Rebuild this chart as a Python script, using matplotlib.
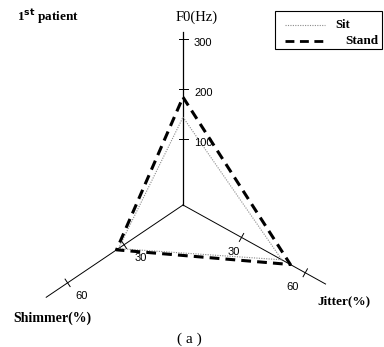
import numpy as np
import matplotlib
matplotlib.use('Agg')
import matplotlib.pyplot as plt
from matplotlib.patches import Rectangle

# data
params = ['F0(Hz)', 'Jitter(%)', 'Shimmer(%)']
sit = [143, 49, 33]
stand = [183, 53, 34]

# axis layout (pixel space, y down)
cx, cy = 183, 205
angles = [90, -29, 214]
lengths = [173, 163, 165]
# value -> radius (px) per axis: r = r0 + k*v
r0 = [16.3, -6.0, 3.0]
kk = [0.5, 2.43, 2.27]
tick_vals = [[100, 200, 300], [30, 60], [30, 60]]
label_off = [(11, 4), None, None]
tick_off = {1: [(-8, 15), (-13, 14)], 2: [(17, 13), (14, 13)]}


def pos(i, v):
    r = r0[i] + kk[i] * v
    a = np.deg2rad(angles[i])
    return cx + r * np.cos(a), cy - r * np.sin(a)


fig = plt.figure(figsize=(3.84, 3.47), dpi=100)
ax = fig.add_axes([0, 0, 1, 1])
ax.set_xlim(0, 384)
ax.set_ylim(347, 0)
ax.axis('off')

serif = 'Liberation Serif'
sans = 'Liberation Sans'

# axes lines and ticks
for i in range(3):
    a = np.deg2rad(angles[i])
    ex, ey = cx + lengths[i] * np.cos(a), cy - lengths[i] * np.sin(a)
    ax.plot([cx, ex], [cy, ey], color='black', lw=0.9 if i == 0 else 0.7, zorder=1)
    px, py = -np.sin(a), -np.cos(a)  # perpendicular in y-down space
    for j, tv in enumerate(tick_vals[i]):
        tx, ty = pos(i, tv)
        ax.plot([tx - 4.5 * px, tx + 4.5 * px], [ty - 4.5 * py, ty + 4.5 * py],
                color='black', lw=0.7, zorder=1)
        if i == 0:
            ox, oy = label_off[0]
        else:
            ox, oy = tick_off[i][j]
        ax.text(tx + ox, ty + oy, str(tv), fontsize=8, family=sans,
                ha='left' if i == 0 else 'center', va='center')

# polygons
sx, sy = zip(*[pos(i, v) for i, v in enumerate(sit)])
ax.plot(list(sx) + [sx[0]], list(sy) + [sy[0]], color='#8a8a8a', lw=0.8,
        ls=(0, (1, 1.2)), zorder=2)
tx_, ty_ = zip(*[pos(i, v) for i, v in enumerate(stand)])
ax.plot(list(tx_) + [tx_[0]], list(ty_) + [ty_[0]], color='black', lw=2.2,
        ls=(0, (3.2, 2.0)), zorder=3, solid_joinstyle='miter')

# labels
ax.text(17, 17, r'1$^{\mathbf{st}}$ patient', fontsize=9.5, family=serif,
        fontweight='bold', va='center', ha='left')
ax.text(197, 17, params[0], fontsize=10.5, family=serif, va='center', ha='center')
ax.text(344, 301, params[1], fontsize=9.5, family=serif, fontweight='bold',
        va='center', ha='center')
ax.text(52, 318, params[2], fontsize=10, family=serif, fontweight='bold',
        va='center', ha='center')
ax.text(189, 339, '( a )', fontsize=11, family=serif, va='center', ha='center')

# legend
ax.add_patch(Rectangle((275, 11), 107, 38, fill=False, ec='black', lw=0.8))
ax.plot([285, 325], [25, 25], color='#8a8a8a', lw=0.8, ls=(0, (1, 1.2)))
ax.plot([285, 325], [41, 41], color='black', lw=2.0, ls=(0, (3.2, 2.0)))
ax.text(335, 25, 'Sit', fontsize=9, family=serif, fontweight='bold', va='center')
ax.text(345, 41, 'Stand', fontsize=9.5, family=serif, fontweight='bold', va='center')

fig.savefig('out.png', dpi=100)
